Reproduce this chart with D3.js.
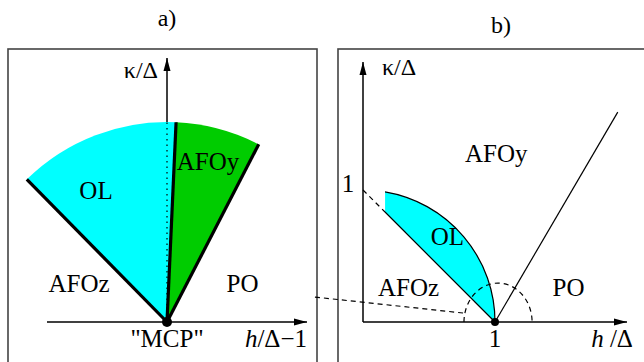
<!DOCTYPE html>
<html>
<head>
<meta charset="utf-8">
<script src="https://cdn.jsdelivr.net/npm/d3@7"></script>
<style>
  body { margin: 0; background: #fff; }
</style>
</head>
<body>
<script>
const W = 644, H = 362;
const FONT = "'Liberation Serif', 'DejaVu Serif', serif";

// panel a: fan of phases around the "MCP" (angles in degrees from the kappa axis)
const fanRadius = 1.0;
const fanAngles = [-44.5, 2.6, 27.3];          // OL left edge, OL/AFOy edge, AFOy/PO edge
const fanFills = ["#00ffff", "#00cc00"];       // OL, AFOy
const labelsA = [
  { t: "OL",    u: -0.355, v: 0.615 },
  { t: "AFOy",  u: 0.205,  v: 0.76 },
  { t: "AFOz",  u: -0.44,  v: 0.15 },
  { t: "PO",    u: 0.378,  v: 0.15 },
  { t: "\"MCP\"", u: 0.0,  v: -0.125 }
];

// panel b: phase diagram in h/Delta, kappa/Delta
const olLeftH = 0.167;            // left edge of the OL pocket
const olRadius = 1.0;             // circle h^2 + k^2 = 1
const afozLine = [[0, 1], [olLeftH, 1 - olLeftH], [1, 0]];   // k = 1 - h (dashed then solid)
const poLine = [[1, 0], [1.93, 1.59]];
const zoomArc = { h: 1.023, rx: 0.258, ry: 0.295 };
const linkLine = [[-0.364, 0.189], [0.758, 0.068]];
const labelsB = [
  { t: "AFOy", u: 1.01,  v: 1.21 },
  { t: "OL",   u: 0.64,  v: 0.583 },
  { t: "AFOz", u: 0.345, v: 0.197 },
  { t: "PO",   u: 1.557, v: 0.197 },
  { t: "1",    u: 1.0,   v: -0.19 },
  { t: "1",    u: -0.114, v: 0.985 }
];

const svg = d3.select("body")
    .append("svg")
    .attr("width", W)
    .attr("height", H)
    .attr("font-family", FONT);

svg.append("defs").append("marker")
    .attr("id", "arrow")
    .attr("markerUnits", "userSpaceOnUse")
    .attr("markerWidth", 14)
    .attr("markerHeight", 8)
    .attr("refX", 13)
    .attr("refY", 4)
    .attr("orient", "auto")
    .append("path")
    .attr("d", "M0,0.5 L13,4 L0,7.5 Z")
    .attr("fill", "#000");

// frames
svg.append("rect").attr("x", 8).attr("y", 49).attr("width", 309).attr("height", 330)
    .attr("fill", "none").attr("stroke", "#444").attr("stroke-width", 1.6);
svg.append("rect").attr("x", 338).attr("y", 49).attr("width", 330).attr("height", 330)
    .attr("fill", "none").attr("stroke", "#444").attr("stroke-width", 1.6);

// ---------- panel a ----------
const xA = d3.scaleLinear().domain([-0.6, 0.7]).range([47, 307]);
const yA = d3.scaleLinear().domain([0, 1.32]).range([322, 58]);
const R = xA(fanRadius) - xA(0);
const rad = d => d * Math.PI / 180;

const gA = svg.append("g");
const arc = d3.arc();
for (let i = 0; i < 2; i++) {
  gA.append("path")
    .attr("transform", `translate(${xA(0)},${yA(0)})`)
    .attr("d", arc({ innerRadius: 0, outerRadius: R, startAngle: rad(fanAngles[i]), endAngle: rad(fanAngles[i + 1]) }))
    .attr("fill", fanFills[i]);
}

// dotted kappa axis inside the fan
gA.append("line")
    .attr("x1", xA(0)).attr("y1", yA(0)).attr("x2", xA(0)).attr("y2", yA(fanRadius))
    .attr("stroke", "#000").attr("stroke-width", 1.2).attr("stroke-dasharray", "1.5,4");

// axes
gA.append("line")
    .attr("x1", xA(-0.6)).attr("y1", yA(0)).attr("x2", xA(0.7)).attr("y2", yA(0))
    .attr("stroke", "#000").attr("stroke-width", 1.5).attr("marker-end", "url(#arrow)");
gA.append("line")
    .attr("x1", xA(0)).attr("y1", yA(fanRadius)).attr("x2", xA(0)).attr("y2", yA(1.32))
    .attr("stroke", "#000").attr("stroke-width", 1.5).attr("marker-end", "url(#arrow)");

// thick phase boundaries
gA.selectAll(".edge")
    .data(fanAngles)
    .enter()
    .append("line")
    .attr("class", "edge")
    .attr("x1", xA(0)).attr("y1", yA(0))
    .attr("x2", d => xA(fanRadius * Math.sin(rad(d))))
    .attr("y2", d => yA(fanRadius * Math.cos(rad(d))))
    .attr("stroke", "#000").attr("stroke-width", 3.2);

gA.append("circle").attr("cx", xA(0)).attr("cy", yA(0)).attr("r", 5).attr("fill", "#000");

gA.selectAll(".lab")
    .data(labelsA)
    .enter()
    .append("text")
    .attr("x", d => xA(d.u)).attr("y", d => yA(d.v))
    .attr("text-anchor", "middle").attr("font-size", 25)
    .text(d => d.t);

gA.append("text").attr("x", xA(-0.045)).attr("y", yA(1.22))
    .attr("text-anchor", "end").attr("font-size", 24).text("κ/Δ");
const hA = gA.append("text").attr("x", xA(0.7)).attr("y", yA(-0.125))
    .attr("text-anchor", "end").attr("font-size", 25);
hA.append("tspan").attr("font-style", "italic").text("h");
hA.append("tspan").text("/Δ−1");
gA.append("text").attr("x", xA(0)).attr("y", yA(1.48))
    .attr("text-anchor", "middle").attr("font-size", 24).text("a)");

// ---------- panel b ----------
const xB = d3.scaleLinear().domain([0, 2]).range([363, 627]);
const yB = d3.scaleLinear().domain([0, 2]).range([322, 58]);
const gB = svg.append("g");

// OL pocket between k = 1 - h and the circle
const rB = xB(olRadius) - xB(0);
const a0 = Math.atan2(yB(Math.sqrt(1 - olLeftH * olLeftH)) - yB(0), xB(olLeftH) - xB(0));
const p = d3.path();
p.moveTo(xB(olLeftH), yB(1 - olLeftH));
p.lineTo(xB(olLeftH), yB(Math.sqrt(1 - olLeftH * olLeftH)));
p.arc(xB(0), yB(0), rB, a0, 0, false);
p.closePath();
gB.append("path").attr("d", p.toString()).attr("fill", "#00ffff");

const p2 = d3.path();
p2.moveTo(xB(olLeftH), yB(Math.sqrt(1 - olLeftH * olLeftH)));
p2.arc(xB(0), yB(0), rB, a0, 0, false);
gB.append("path").attr("d", p2.toString()).attr("fill", "none").attr("stroke", "#000").attr("stroke-width", 1.2);

const line = d3.line().x(d => xB(d[0])).y(d => yB(d[1]));
gB.append("path").attr("d", line(afozLine.slice(0, 2)))
    .attr("fill", "none").attr("stroke", "#000").attr("stroke-width", 1.2).attr("stroke-dasharray", "5,4");
gB.append("path").attr("d", line(afozLine.slice(1)))
    .attr("fill", "none").attr("stroke", "#000").attr("stroke-width", 1.2);
gB.append("path").attr("d", line(poLine))
    .attr("fill", "none").attr("stroke", "#000").attr("stroke-width", 1.2);
gB.append("path").attr("d", line(linkLine))
    .attr("fill", "none").attr("stroke", "#000").attr("stroke-width", 1.2).attr("stroke-dasharray", "5,4");

// dashed zoom half-ellipse round the point h = 1
const ex = xB(zoomArc.h), erx = xB(zoomArc.rx) - xB(0), ery = yB(0) - yB(zoomArc.ry);
gB.append("path")
    .attr("d", `M${ex - erx},${yB(0)} A${erx},${ery} 0 0 1 ${ex + erx},${yB(0)}`)
    .attr("fill", "none").attr("stroke", "#000").attr("stroke-width", 1.2).attr("stroke-dasharray", "5,4");

// axes
gB.append("line")
    .attr("x1", xB(0)).attr("y1", yB(0)).attr("x2", xB(2)).attr("y2", yB(0))
    .attr("stroke", "#000").attr("stroke-width", 1.5).attr("marker-end", "url(#arrow)");
gB.append("line")
    .attr("x1", xB(0)).attr("y1", yB(0)).attr("x2", xB(0)).attr("y2", yB(1.97))
    .attr("stroke", "#000").attr("stroke-width", 1.5).attr("marker-end", "url(#arrow)");

gB.append("circle").attr("cx", xB(1)).attr("cy", yB(0)).attr("r", 4).attr("fill", "#000");

gB.selectAll(".lab")
    .data(labelsB)
    .enter()
    .append("text")
    .attr("x", d => xB(d.u)).attr("y", d => yB(d.v))
    .attr("text-anchor", "middle").attr("font-size", 25)
    .text(d => d.t);

gB.append("text").attr("x", xB(0.144)).attr("y", yB(1.87))
    .attr("font-size", 24).text("κ/Δ");
const hB = gB.append("text").attr("x", xB(2.045)).attr("y", yB(-0.19))
    .attr("text-anchor", "end").attr("font-size", 25);
hB.append("tspan").attr("font-style", "italic").text("h");
hB.append("tspan").text(" /Δ");
gB.append("text").attr("x", xB(1.045)).attr("y", yB(2.19))
    .attr("text-anchor", "middle").attr("font-size", 24).text("b)");
</script>
</body>
</html>
